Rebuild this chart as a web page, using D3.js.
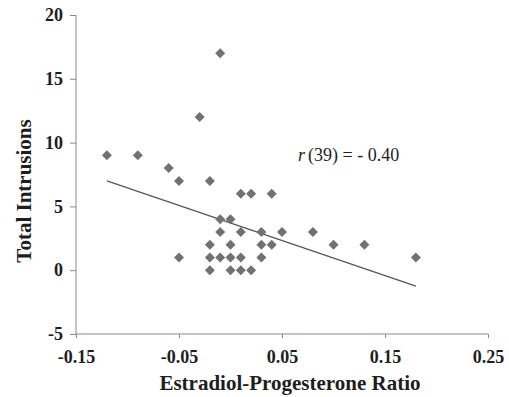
<!DOCTYPE html>
<html>
<head>
<meta charset="utf-8">
<script src="https://cdn.jsdelivr.net/npm/d3@7"></script>
<style>
  body { margin: 0; background: #fff; }
  svg { display: block; font-family: "Liberation Serif", "Times New Roman", serif; }
</style>
</head>
<body>
<div id="chart"></div>
<script>
// estradiol-progesterone ratio vs total intrusions
var ratio = [-0.12, -0.09, -0.06, -0.05, -0.05, -0.03, -0.02, -0.01,
             0.01, 0.02, 0.04, -0.01, 0.00, -0.01, 0.01, 0.03, 0.05, 0.08,
             -0.02, 0.00, 0.03, 0.04, 0.10, 0.13,
             -0.02, -0.01, 0.00, 0.01, 0.03, 0.18,
             -0.02, 0.00, 0.01, 0.02];
var intrusions = [9, 9, 8, 7, 1, 12, 7, 17,
                  6, 6, 6, 4, 4, 3, 3, 3, 3, 3,
                  2, 2, 2, 2, 2, 2,
                  1, 1, 1, 1, 1, 1,
                  0, 0, 0, 0];

var xTicks = [-0.15, -0.05, 0.05, 0.15, 0.25];
var yTicks = [-5, 0, 5, 10, 15, 20];

// fitted regression line
var trendSlope = -27.5;
var trendIntercept = 3.7;
var corrLabel = '(39) = - 0.40';

var W = 509, H = 397;
var svg = d3.select('#chart').append('svg').attr('width', W).attr('height', H);

var x = d3.scaleLinear().domain([-0.15, 0.25]).range([76, 488]);
var y = d3.scaleLinear().domain([-5, 20]).range([334, 15]);

var axisColor = '#8a8a8a';
var textColor = '#1e1e1e';

// plain hyphen instead of d3's unicode minus
function fmt(spec) {
    var f = d3.format(spec);
    return function(d) { return f(d).replace('\u2212', '-'); };
}

// y axis
var yAxis = svg.append('g')
    .attr('transform', 'translate(' + x(-0.15) + ',0)')
    .call(d3.axisLeft(y).tickValues(yTicks).tickSize(6).tickPadding(7).tickFormat(fmt('d')));
yAxis.selectAll('path, line').attr('stroke', axisColor);
yAxis.select('.domain').attr('d', 'M0,' + y(20) + 'V' + y(-5));
yAxis.selectAll('text')
    .attr('fill', textColor)
    .style('font-family', '"Liberation Serif", serif')
    .style('font-weight', 'bold')
    .style('font-size', '18px');

// x axis
var xAxis = svg.append('g')
    .attr('transform', 'translate(0,' + y(-5) + ')')
    .call(d3.axisBottom(x).tickValues(xTicks).tickSize(4).tickPadding(12).tickFormat(fmt('.2f')));
xAxis.selectAll('path, line').attr('stroke', axisColor);
xAxis.select('.domain').attr('d', 'M' + x(-0.15) + ',0H' + x(0.25));
xAxis.selectAll('text')
    .attr('fill', textColor)
    .style('font-family', '"Liberation Serif", serif')
    .style('font-weight', 'bold')
    .style('font-size', '18px');

// trend line over data range
var xr = d3.extent(ratio);
svg.append('line')
    .attr('x1', x(xr[0])).attr('y1', y(trendIntercept + trendSlope * xr[0]))
    .attr('x2', x(xr[1])).attr('y2', y(trendIntercept + trendSlope * xr[1]))
    .attr('stroke', '#555')
    .attr('stroke-width', 1.2);

// diamond markers
var pts = ratio.map(function(r, i) { return { r: r, v: intrusions[i] }; });
var s = 5;
svg.append('g').selectAll('path')
    .data(pts)
    .enter().append('path')
    .attr('d', 'M0,' + (-s) + 'L' + s + ',0L0,' + s + 'L' + (-s) + ',0Z')
    .attr('transform', function(d) { return 'translate(' + x(d.r) + ',' + y(d.v) + ')'; })
    .attr('fill', '#717171');

// correlation annotation
var ann = svg.append('text')
    .attr('x', 298).attr('y', 161)
    .attr('fill', textColor)
    .style('font-size', '18px');
ann.append('tspan').style('font-style', 'italic').text('r');
ann.append('tspan').attr('dx', 3).text(corrLabel);

// axis titles
svg.append('text')
    .attr('x', 290).attr('y', 390)
    .attr('text-anchor', 'middle')
    .attr('fill', textColor)
    .style('font-weight', 'bold')
    .style('font-size', '21px')
    .text('Estradiol-Progesterone Ratio');

svg.append('text')
    .attr('transform', 'translate(31,191) rotate(-90)')
    .attr('text-anchor', 'middle')
    .attr('fill', textColor)
    .style('font-weight', 'bold')
    .style('font-size', '21px')
    .text('Total Intrusions');
</script>
</body>
</html>
